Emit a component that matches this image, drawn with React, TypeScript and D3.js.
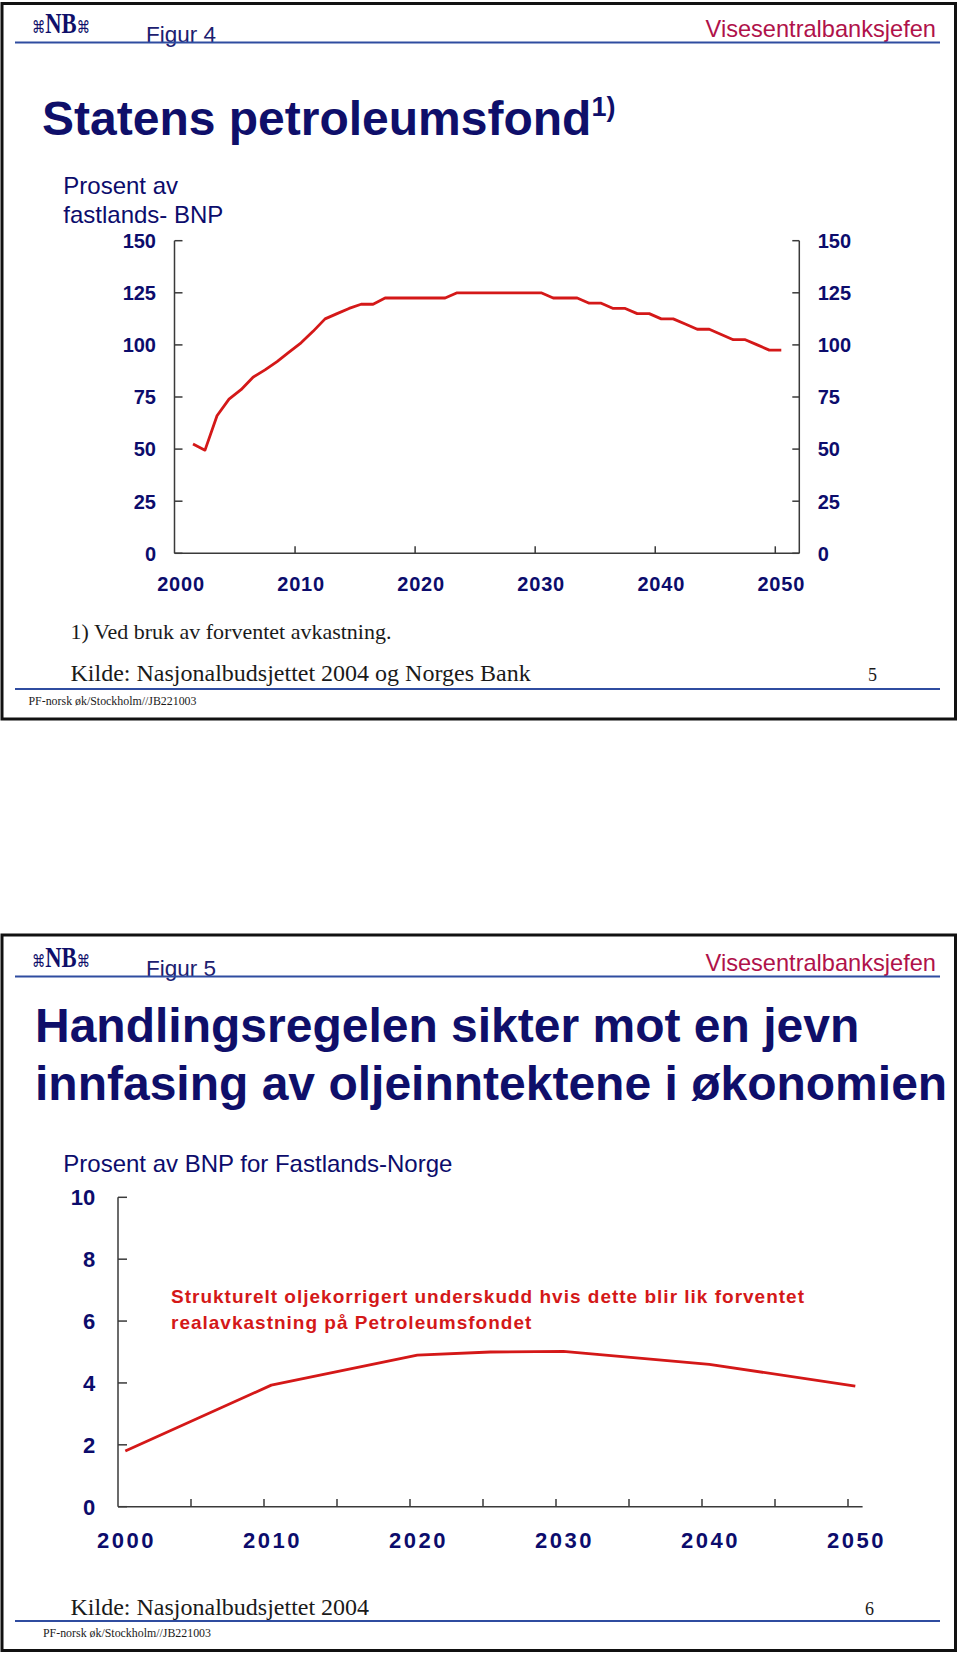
import React from "react";
import * as d3 from "d3";

// ---------- DATA ----------
// Figur 4: Statens petroleumsfond, prosent av fastlands-BNP
const fundYears = [
  2001, 2002, 2003, 2004, 2005, 2006, 2007, 2008, 2009, 2010,
  2011, 2012, 2013, 2014, 2015, 2016, 2017, 2018, 2019, 2020,
  2021, 2022, 2023, 2024, 2025, 2026, 2027, 2028, 2029, 2030,
  2031, 2032, 2033, 2034, 2035, 2036, 2037, 2038, 2039, 2040,
  2041, 2042, 2043, 2044, 2045, 2046, 2047, 2048, 2049, 2050,
];
const fundValues = [
  52.5, 49.5, 66, 74, 78.5, 84.5, 88, 92, 96.5, 101,
  106.5, 112.5, 115, 117.5, 119.5, 119.5, 122.5, 122.5, 122.5, 122.5,
  122.5, 122.5, 125, 125, 125, 125, 125, 125, 125, 125,
  122.5, 122.5, 122.5, 120, 120, 117.5, 117.5, 115, 115, 112.5,
  112.5, 110, 107.5, 107.5, 105, 102.5, 102.5, 100, 97.5, 97.5,
];
const chart1Categories = d3.range(2000, 2052); // category axis 2000..2051
const chart1YTicks = [0, 25, 50, 75, 100, 125, 150];
const chart1XTickYears = [2010, 2020, 2030, 2040, 2050];
const chart1XLabels = ["2000", "2010", "2020", "2030", "2040", "2050"];

// Figur 5: Strukturelt oljekorrigert underskudd, prosent av BNP for Fastlands-Norge
const deficitYears = [2000, 2010, 2020, 2025, 2030, 2040, 2050];
const deficitValues = [1.8, 3.93, 4.9, 5.0, 5.02, 4.6, 3.9];
const chart2Categories = d3.range(2000, 2051); // 2000..2050
const chart2YTicks = [0, 2, 4, 6, 8, 10];
const chart2XTickYears = [2005, 2010, 2015, 2020, 2025, 2030, 2035, 2040, 2045, 2050];
const chart2XLabels = ["2000", "2010", "2020", "2030", "2040", "2050"];

// ---------- STYLE ----------
const SANS = "'Liberation Sans', Arial, Helvetica, sans-serif";
const SERIF = "'Liberation Serif', 'Times New Roman', serif";
const NAVY = "#0c0c6c";
const TITLE = "#0f0f6a";
const CRIMSON = "#b0124a";
const RED = "#d41818";
const RULE = "#2f4ca0";
const AXIS = "#3a3a3a";

function Header({ top, fig }: { top: number; fig: string }) {
  return (
    <g>
      {/* NB logo */}
      <text transform={`translate(32, ${top + 29.5}) scale(0.78, 1)`} fill={TITLE}>
        <tspan fontFamily="'DejaVu Sans', sans-serif" fontSize={17}>⌘</tspan>
        <tspan fontFamily={SERIF} fontWeight="bold" fontSize={29}>NB</tspan>
        <tspan fontFamily="'DejaVu Sans', sans-serif" fontSize={17}>⌘</tspan>
      </text>
      <text x={146} y={top + 38} fontFamily={SANS} fontSize={22.5} fill="#1c2070">{fig}</text>
      <text x={936} y={top + 33} fontFamily={SANS} fontSize={23.6} fill={CRIMSON} textAnchor="end">
        Visesentralbanksjefen
      </text>
      <line x1={15} x2={940} y1={top + 39} y2={top + 39} stroke={RULE} strokeWidth={2} />
    </g>
  );
}

function Footer({ kildeY, kilde, page, pageX, lineY, pfX }: any) {
  return (
    <g>
      <text x={70.5} y={kildeY} fontFamily={SERIF} fontSize={24} fill="#1a1a1a">{kilde}</text>
      <text x={pageX} y={kildeY} fontFamily={SERIF} fontSize={18} fill="#1a1a1a">{page}</text>
      <line x1={15} x2={940} y1={lineY} y2={lineY} stroke={RULE} strokeWidth={2} />
      <text x={pfX} y={lineY + 15.5} fontFamily={SERIF} fontSize={12} fill="#1a1a1a"
        textLength={168} lengthAdjust="spacingAndGlyphs">PF-norsk øk/Stockholm//JB221003</text>
    </g>
  );
}

function Chart1() {
  const x = d3.scaleBand<number>().domain(chart1Categories).range([175, 799.3]).padding(0);
  const y = d3.scaleLinear().domain([0, 150]).range([553.3, 240.7]);
  const cx = (yr: number) => (x(yr) as number) + x.bandwidth() / 2;
  const line = d3.line<number>().x((_, i) => cx(fundYears[i])).y((d) => y(d));
  const left = 174.5;
  const right = 799.3;
  const base = y(0);
  return (
    <g>
      <text x={63.3} y={194.3} fontFamily={SANS} fontSize={24} fill={NAVY}>Prosent av</text>
      <text x={63.3} y={222.7} fontFamily={SANS} fontSize={24} fill={NAVY}>fastlands- BNP</text>
      <line x1={left} x2={left} y1={y(150)} y2={base} stroke={AXIS} strokeWidth={1.5} />
      <line x1={right} x2={right} y1={y(150)} y2={base} stroke={AXIS} strokeWidth={1.5} />
      <line x1={left} x2={right} y1={base} y2={base} stroke={AXIS} strokeWidth={1.5} />
      {chart1YTicks.map((t) => (
        <g key={t}>
          <line x1={left} x2={left + 8} y1={y(t)} y2={y(t)} stroke={AXIS} strokeWidth={1.5} />
          <line x1={right - 7} x2={right} y1={y(t)} y2={y(t)} stroke={AXIS} strokeWidth={1.5} />
          <text x={156} y={y(t) + 7.3} textAnchor="end" fontFamily={SANS} fontWeight="bold" fontSize={20} fill={NAVY}>{t}</text>
          <text x={817.7} y={y(t) + 7.3} fontFamily={SANS} fontWeight="bold" fontSize={20} fill={NAVY}>{t}</text>
        </g>
      ))}
      {chart1XTickYears.map((yr) => (
        <line key={yr} x1={x(yr)} x2={x(yr)} y1={base - 7} y2={base} stroke={AXIS} strokeWidth={1.5} />
      ))}
      {chart1XLabels.map((lab) => (
        <text key={lab} x={cx(+lab)} y={591} textAnchor="middle" fontFamily={SANS} fontWeight="bold"
          fontSize={20} letterSpacing={0.8} fill={NAVY}>{lab}</text>
      ))}
      <path d={line(fundValues) || ""} fill="none" stroke={RED} strokeWidth={2.8} strokeLinejoin="round" />
    </g>
  );
}

function Chart2() {
  const x = d3.scaleBand<number>().domain(chart2Categories).range([118, 862.6]).padding(0);
  const y = d3.scaleLinear().domain([0, 10]).range([1506.7, 1197.3]);
  const cx = (yr: number) => (x(yr) as number) + x.bandwidth() / 2;
  const line = d3.line<number>().x((_, i) => cx(deficitYears[i])).y((d) => y(d));
  const left = 118;
  const right = 862.6;
  const base = y(0);
  return (
    <g>
      <text x={63.3} y={1171.7} fontFamily={SANS} fontSize={24} fill={NAVY}>Prosent av BNP for Fastlands-Norge</text>
      <line x1={left} x2={left} y1={y(10)} y2={base} stroke={AXIS} strokeWidth={1.5} />
      <line x1={left} x2={right} y1={base} y2={base} stroke={AXIS} strokeWidth={1.5} />
      {chart2YTicks.map((t) => (
        <g key={t}>
          <line x1={left} x2={left + 9} y1={y(t)} y2={y(t)} stroke={AXIS} strokeWidth={1.5} />
          <text x={95.3} y={y(t) + 8} textAnchor="end" fontFamily={SANS} fontWeight="bold" fontSize={22}
            fill={NAVY}>{t}</text>
        </g>
      ))}
      {chart2XTickYears.map((yr) => (
        <line key={yr} x1={x(yr)} x2={x(yr)} y1={base - 7.7} y2={base} stroke={AXIS} strokeWidth={1.5} />
      ))}
      {chart2XLabels.map((lab) => (
        <text key={lab} x={cx(+lab) + 1.2} y={1548.3} textAnchor="middle" fontFamily={SANS} fontWeight="bold"
          fontSize={22} letterSpacing={2.5} fill={NAVY}>{lab}</text>
      ))}
      <text x={171} y={1303.3} fontFamily={SANS} fontWeight="bold" fontSize={19} letterSpacing={1} fill={RED}>
        Strukturelt oljekorrigert underskudd hvis dette blir lik forventet
      </text>
      <text x={171} y={1329.3} fontFamily={SANS} fontWeight="bold" fontSize={19} letterSpacing={1} fill={RED}>
        realavkastning på Petroleumsfondet
      </text>
      <path d={line(deficitValues) || ""} fill="none" stroke={RED} strokeWidth={2.8} strokeLinejoin="round" />
    </g>
  );
}

export default function App() {
  return (
    <svg width={960} height={1654} viewBox="0 0 960 1654"
      style={{ position: "absolute", left: 0, top: 0, background: "#ffffff" }}>
      <rect x={0} y={0} width={960} height={1654} fill="#ffffff" />
      {/* Frame 1 */}
      <rect x={2} y={3.5} width={953.5} height={715.5} fill="none" stroke="#111" strokeWidth={3} />
      <Header top={3.5} fig="Figur 4" />
      <text x={42} y={135} fontFamily={SANS} fontWeight="bold" fontSize={48} fill={TITLE}>
        Statens petroleumsfond
        <tspan fontSize={27} dy={-19}>1)</tspan>
      </text>
      <Chart1 />
      <text x={70.5} y={639} fontFamily={SERIF} fontSize={22} fill="#1a1a1a">1) Ved bruk av forventet avkastning.</text>
      <Footer kildeY={681} kilde="Kilde: Nasjonalbudsjettet 2004 og Norges Bank" page="5" pageX={868} lineY={689} pfX={28.5} />

      {/* Frame 2 */}
      <rect x={2} y={935} width={953.5} height={715.5} fill="none" stroke="#111" strokeWidth={3} />
      <Header top={937.5} fig="Figur 5" />
      <text x={35} y={1042} fontFamily={SANS} fontWeight="bold" fontSize={48} fill={TITLE}>
        Handlingsregelen sikter mot en jevn
      </text>
      <text x={35} y={1100} fontFamily={SANS} fontWeight="bold" fontSize={48} fill={TITLE}>
        innfasing av oljeinntektene i økonomien
      </text>
      <Chart2 />
      <Footer kildeY={1615} kilde="Kilde: Nasjonalbudsjettet 2004" page="6" pageX={865} lineY={1621} pfX={43} />
    </svg>
  );
}
